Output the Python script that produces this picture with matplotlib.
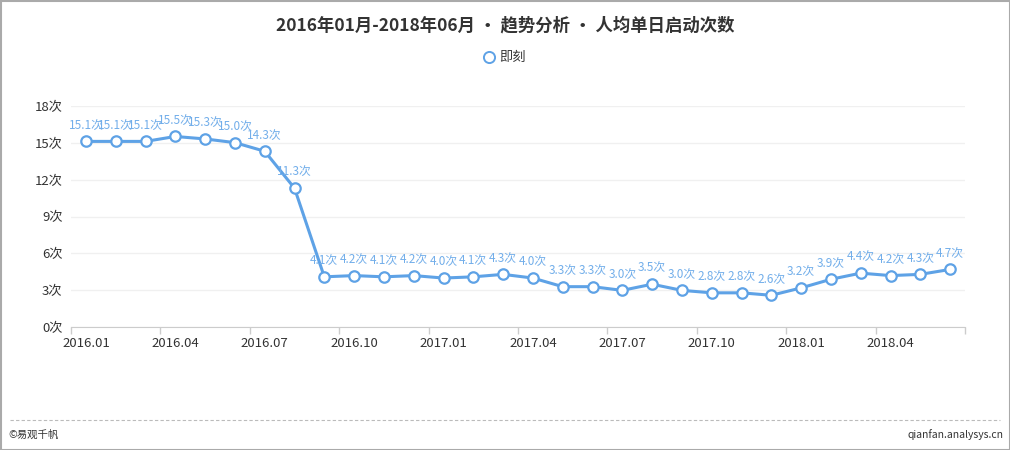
import matplotlib
matplotlib.use("Agg")
import matplotlib.pyplot as plt
from matplotlib.patches import Rectangle
from matplotlib.lines import Line2D

plt.rcParams['font.family'] = ['Noto Sans CJK SC', 'DejaVu Sans']

months = [f"{y}.{m:02d}" for y in (2016, 2017, 2018) for m in range(1, 13)][:30]
values = [15.1, 15.1, 15.1, 15.5, 15.3, 15.0, 14.3, 11.3, 4.1, 4.2, 4.1, 4.2,
          4.0, 4.1, 4.3, 4.0, 3.3, 3.3, 3.0, 3.5, 3.0, 2.8, 2.8, 2.6, 3.2, 3.9,
          4.4, 4.2, 4.3, 4.7]
yticks = [0, 3, 6, 9, 12, 15, 18]
title = "2016年01月-2018年06月 • 趋势分析 • 人均单日启动次数"
series_name = "即刻"

line_color = "#5ea2e6"
label_color = "#72aeea"

fig = plt.figure(figsize=(10.1, 4.5), dpi=100)
fig.patch.set_facecolor("white")

ax = fig.add_axes([71/1010, 1-327.3/450, (965-71)/1010, (327.3-105.7)/450])
n = len(values)
x = list(range(n))
ax.plot(x, values, color=line_color, lw=2.2, marker='o', ms=7.5,
        mfc='white', mec=line_color, mew=1.6, zorder=3, clip_on=False)
for xi, v in zip(x, values):
    ax.annotate(f"{v:.1f}次", (xi, v), xytext=(0, 7), textcoords='offset points',
                ha='center', va='bottom', fontsize=8.5, color=label_color, zorder=4)

ax.set_xlim(-0.5, n - 0.5)
ax.set_ylim(0, 18)
ax.set_yticks(yticks)
ax.set_yticklabels([f"{t}次" for t in yticks], fontsize=9.5, color="#333333")
ax.tick_params(axis='y', length=0, pad=6)
ax.yaxis.grid(True, color="#f0f0f0", lw=1)
ax.set_axisbelow(True)

major = [i - 0.5 for i in range(0, n + 1, 3)]
ax.set_xticks(major)
ax.set_xticklabels([""] * len(major))
ax.tick_params(axis='x', which='major', length=5, color="#cccccc", width=1)
ax.set_xticks(list(range(0, n, 3)), minor=True)
ax.set_xticklabels([months[i] for i in range(0, n, 3)], minor=True,
                   fontsize=9.5, color="#333333")
ax.tick_params(axis='x', which='minor', length=0, pad=7)

for s in ('top', 'right', 'left'):
    ax.spines[s].set_visible(False)
ax.spines['bottom'].set_color("#cccccc")

fig.text(0.5, 1-25/450, title, ha='center', va='center', fontsize=12.5,
         fontweight='bold', color="#333333")
fig.add_artist(Line2D([489/1010], [1-57/450], marker='o', ms=8, mfc='white',
                      mec=line_color, mew=1.4, transform=fig.transFigure))
fig.text(499/1010, 1-57/450, series_name, ha='left', va='center', fontsize=9.5,
         color="#333333")

fig.add_artist(Line2D([10/1010, 1000/1010], [1-420/450, 1-420/450], ls=(0, (3, 2)),
                      color="#bbbbbb", lw=0.8, transform=fig.transFigure))
fig.text(8/1010, 1-435/450, "©易观千帆", ha='left', va='center', fontsize=7.5,
         color="#333333")
fig.text(1003/1010, 1-435/450, "qianfan.analysys.cn", ha='right', va='center',
         fontsize=7.5, color="#333333")
fig.add_artist(Rectangle((0.5/1010, 0.5/450), 1009/1010, 449/450, fill=False,
                         ec="#aaaaaa", lw=1.5, transform=fig.transFigure))

fig.savefig("out.png", dpi=100, facecolor="white")
